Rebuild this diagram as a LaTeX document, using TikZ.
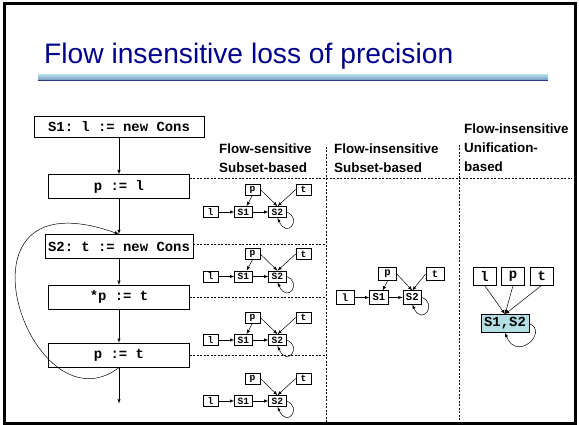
\documentclass[tikz,border=0pt]{standalone}
\usepackage{fontspec}
\setmainfont{Liberation Sans}
\setmonofont{Liberation Mono}
\usepackage{xcolor}
\usetikzlibrary{shapes,arrows,positioning}

\definecolor{titleblue}{RGB}{0,0,140}
\definecolor{barlight}{RGB}{170,214,228}
\definecolor{bardark}{RGB}{40,55,135}
\definecolor{cellfill}{RGB}{178,222,228}

\begin{document}
\begin{tikzpicture}[
    x=1pt, y=-1pt,
    stmt/.style={rectangle, draw, line width=0.8pt, font=\fontsize{13.9}{16}\selectfont\ttfamily\bfseries, minimum width=141pt, minimum height=24pt, inner sep=3pt},
    cell/.style={rectangle, draw, line width=0.6pt, font=\fontsize{9.6}{10}\selectfont\ttfamily\bfseries, minimum width=15pt, minimum height=11pt, inner xsep=3pt, inner ysep=0pt},
    bigcell/.style={cell, font=\fontsize{10.6}{11}\selectfont\ttfamily\bfseries, minimum width=18pt, minimum height=13.5pt},
    ucell/.style={cell, font=\fontsize{13.9}{16}\selectfont\ttfamily\bfseries, minimum width=23pt, minimum height=18pt},
    colhead/.style={anchor=west, align=left, inner sep=0pt, font=\fontsize{13.4}{19}\selectfont\bfseries},
    divider/.style={line width=0.6pt, dash pattern=on 2pt off 1.5pt},
    ptr/.style={->, >=latex, line width=0.5pt},
    node distance=16pt
]
    \useasboundingbox (0,0) rectangle (579,425);
    \draw[line width=3pt] (4.5,3.5) rectangle (575.5,423.5);

    % title
    \node[anchor=base west, inner sep=0pt, text=titleblue, font=\fontsize{28.2}{32}\selectfont] (title) at (44,64) {Flow insensitive loss of precision};
    \shade[top color=barlight, bottom color=barlight!60!bardark] (38,75) rectangle (548,80);
    \draw[line width=1.5pt, bardark] (38,80.5) -- (548,80.5);

    % program
    \node[stmt, minimum width=170pt, minimum height=21pt] (s1) at (119,126.5) {S1: l := new Cons};
    \node[stmt, below=37pt of s1] (pl) {p := l};
    \node[stmt, below=35pt of pl] (s2) {S2: t := new Cons};
    \node[stmt, below=26pt of s2] (sp) {*p := t};
    \node[stmt, below=33pt of sp] (pt) {p := t};
    \coordinate[below=36pt of pt] (exit);

    \draw[ptr] (s1) -- (pl);
    \draw[ptr] (pl) -- (s2);
    \draw[ptr] (s2) -- (sp);
    \draw[ptr] (sp) -- (pt);
    \draw[ptr] (pt) -- (exit);
    \draw[ptr] (pt.south) .. controls (30,435) and (-60,170) .. (s2.north);

    % column headings
    \node[colhead] (hsens) at (219,158) {Flow-sensitive\\Subset-based};
    \node[colhead] (hins) at (334,158) {Flow-insensitive\\Subset-based};
    \node[colhead] (huni) at (464,148) {Flow-insensitive\\Unification-\\based};

    % dashed grid
    \coordinate (rim) at (572,0);
    \coordinate (floor) at (0,422);
    \coordinate (va) at (326,147);
    \coordinate (vb) at (459,145);
    \coordinate (d1) at ([yshift=8pt]pl.east);
    \coordinate (d2) at ([yshift=2pt]s2.east);
    \coordinate (d3) at (sp.east);
    \coordinate (d4) at (pt.east);
    \draw[divider] (va) -- (va |- floor);
    \draw[divider] (vb) -- (vb |- floor);
    \draw[divider] (d1) -- (d1 -| rim);
    \draw[divider] (d2) -- (d2 -| va);
    \draw[divider] (d3) -- (d3 -| va);
    \draw[divider] (d4) -- (d4 -| va);

    % flow-sensitive, after p := l
    \node[cell] (la) at (210.5,212) {l};
    \node[cell, right=of la] (s1a) {S1};
    \node[cell, right=of s1a] (s2a) {S2};
    \node[cell] (pa) at (252.5,189.5) {p};
    \node[cell] (ta) at (303.5,189.5) {t};
    \draw[ptr] (la) -- (s1a);
    \draw[ptr] (s1a) -- (s2a);
    \draw[ptr] (pa.south) -- (s1a);
    \draw[ptr] (pa.east) -- (s2a.north);
    \draw[ptr] (ta.west) -- (s2a.north);
    \draw[ptr] (s2a.east) .. controls +(16,6) and +(10,22) .. (s2a.south);

    % after S2
    \node[cell] (lb) at (210.5,276.5) {l};
    \node[cell, right=of lb] (s1b) {S1};
    \node[cell, right=of s1b] (s2b) {S2};
    \node[cell] (pb) at (252.5,254) {p};
    \node[cell] (tb) at (303.5,254) {t};
    \draw[ptr] (lb) -- (s1b);
    \draw[ptr] (s1b) -- (s2b);
    \draw[ptr] (pb.south) -- (s1b);
    \draw[ptr] (pb.east) -- (s2b.north);
    \draw[ptr] (tb.west) -- (s2b.north);
    \draw[ptr] (s2b.east) .. controls +(16,6) and +(10,22) .. (s2b.south);

    % after *p := t
    \node[cell] (lc) at (210.5,340) {l};
    \node[cell, right=of lc] (s1c) {S1};
    \node[cell, right=of s1c] (s2c) {S2};
    \node[cell] (pc) at (252.5,317.5) {p};
    \node[cell] (tc) at (303.5,317.5) {t};
    \draw[ptr] (lc) -- (s1c);
    \draw[ptr] (s1c) -- (s2c);
    \draw[ptr] (pc.south) -- (s1c);
    \draw[ptr] (pc.east) -- (s2c.north);
    \draw[ptr] (tc.west) -- (s2c.north);
    \draw[ptr] (s2c.east) .. controls +(16,6) and +(10,22) .. (s2c.south);

    % after p := t
    \node[cell] (ld) at (210.5,401) {l};
    \node[cell, right=of ld] (s1d) {S1};
    \node[cell, right=of s1d] (s2d) {S2};
    \node[cell] (pd) at (252.5,378.5) {p};
    \node[cell] (td) at (303.5,378.5) {t};
    \draw[ptr] (ld) -- (s1d);
    \draw[ptr] (s1d) -- (s2d);
    \draw[ptr] (pd.east) -- (s2d.north);
    \draw[ptr] (td.west) -- (s2d.north);
    \draw[ptr] (s2d.east) .. controls +(16,6) and +(10,22) .. (s2d.south);

    % flow-insensitive, subset-based
    \node[bigcell] (lf) at (345,297.5) {l};
    \node[bigcell, right=15pt of lf] (s1f) {S1};
    \node[bigcell, right=14pt of s1f] (s2f) {S2};
    \node[bigcell] (pf) at (387.5,274) {p};
    \node[bigcell] (tf) at (435,274) {t};
    \draw[ptr] (lf) -- (s1f);
    \draw[ptr] (s1f) -- (s2f);
    \draw[ptr] (pf.south) -- (s1f);
    \draw[ptr] (pf.east) -- (s2f.north);
    \draw[ptr] (tf.west) -- (s2f.north);
    \draw[ptr] (s2f.east) .. controls +(16,6) and +(10,22) .. (s2f.south);

    % flow-insensitive, unification-based
    \node[ucell] (lu) at (484.5,276) {l};
    \node[ucell, right=5pt of lu] (pu) {p};
    \node[ucell, right=5pt of pu] (tu) {t};
    \node[ucell, fill=cellfill] (su) at (505,323.5) {S1,S2};
    \draw[ptr] (lu.south) -- (su.north);
    \draw[ptr] (pu.south) -- (su.north);
    \draw[ptr] (tu.south) -- (su.north);
    \draw[ptr] (su.east) .. controls +(20,8) and +(12,30) .. (su.south);
\end{tikzpicture}
\end{document}
